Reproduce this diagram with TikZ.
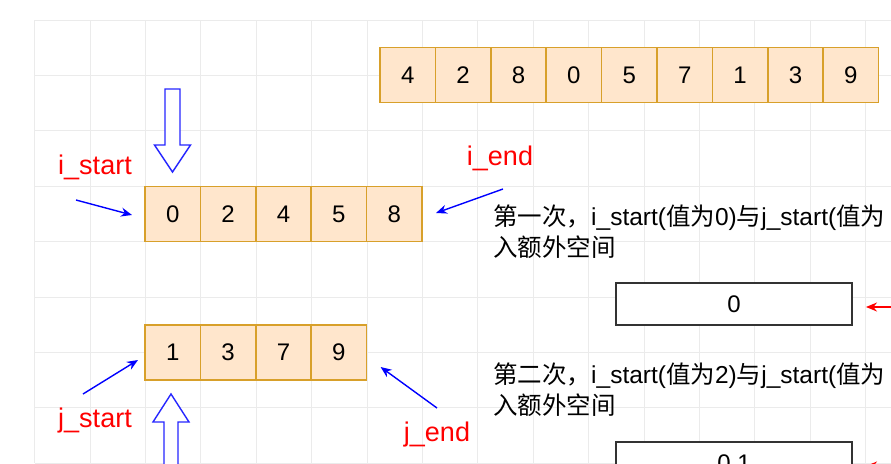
\documentclass[tikz,border=0pt]{standalone}
\usepackage{fontspec}
\setmainfont{Liberation Sans}
\newfontfamily\cjk{Noto Sans CJK SC}
\usetikzlibrary{arrows.meta, positioning}
\definecolor{cellfill}{HTML}{FFE6CC}
\definecolor{cellline}{HTML}{D8A02A}
\definecolor{gridgray}{HTML}{EBEBEB}
\newcommand{\zh}[1]{{\cjk #1}}

\begin{document}
\begin{tikzpicture}[x=1pt, y=-1pt,
    cell/.style={draw=cellline, fill=cellfill, line width=1.5pt, minimum width=55.4pt, minimum height=55.4pt, inner sep=0pt, outer sep=0pt, font=\fontsize{24}{24}\selectfont},
    merged/.style={draw=black!80, fill=white, line width=1.5pt, minimum width=236pt, minimum height=42pt, inner sep=0pt, outer sep=0pt, font=\fontsize{24}{24}\selectfont},
    ptrlabel/.style={text=red, inner sep=0pt, font=\fontsize{27}{27}\selectfont},
    note/.style={anchor=base west, inner sep=0pt, font=\fontsize{24.5}{24.5}\selectfont},
    ptr/.style={draw=blue, line width=1.4pt, -{Stealth[length=11pt, width=9pt]}},
    redptr/.style={draw=red, line width=1.4pt, -{Stealth[length=11pt, width=9pt]}},
    hollow/.style={draw=blue!85, fill=white, line width=1.4pt},
    gridline/.style={draw=gridgray, line width=0.8pt}]
  \clip (0,0) rectangle (891,463);
  \fill[white] (0,0) rectangle (891,463);
  % canvas grid
  \foreach \k in {0,...,15} \draw[gridline] (34.5+55.4*\k,20) -- (34.5+55.4*\k,463);
  \foreach \k in {0,...,8} \draw[gridline] (34.5,20+55.4*\k) -- (891,20+55.4*\k);

  % input array
  \node[cell] (t1) at (407.7,75) {4};
  \node[cell, right=0pt of t1] (t2) {2};
  \node[cell, right=0pt of t2] (t3) {8};
  \node[cell, right=0pt of t3] (t4) {0};
  \node[cell, right=0pt of t4] (t5) {5};
  \node[cell, right=0pt of t5] (t6) {7};
  \node[cell, right=0pt of t6] (t7) {1};
  \node[cell, right=0pt of t7] (t8) {3};
  \node[cell, right=0pt of t8] (t9) {9};

  % left half
  \draw[hollow] (165,89) -- (180,89) -- (180,145) -- (190.5,145) -- (172.5,172) -- (154.5,145) -- (165,145) -- cycle;
  \node[cell] (b1) at (172.7,214) {0};
  \node[cell, right=0pt of b1] (b2) {2};
  \node[cell, right=0pt of b2] (b3) {4};
  \node[cell, right=0pt of b3] (b4) {5};
  \node[cell, right=0pt of b4] (b5) {8};
  \node[ptrlabel] (istart) at (95,167) {i\_start};
  \node[ptrlabel] (iend) at (500,158) {i\_end};
  \coordinate (istartTail) at (76,200);
  \coordinate (iendTail) at (503,189);
  \draw[ptr] (istartTail) -- ([xshift=-13pt, yshift=-1pt]b1.west);
  \draw[ptr] (iendTail) -- ([xshift=14pt, yshift=1pt]b5.east);

  % right half
  \node[cell] (c1) at (172.7,352.5) {1};
  \node[cell, right=0pt of c1] (c2) {3};
  \node[cell, right=0pt of c2] (c3) {7};
  \node[cell, right=0pt of c3] (c4) {9};
  \draw[hollow] (164,475) -- (164,422) -- (153,422) -- (171,394) -- (189,422) -- (178,422) -- (178,475);
  \node[ptrlabel] (jstart) at (95,421) {j\_start};
  \node[ptrlabel] (jend) at (437,435) {j\_end};
  \coordinate (jstartTail) at (83,394);
  \coordinate (jendTail) at (437,408);
  \draw[ptr] (jstartTail) -- ([xshift=-7pt, yshift=-7.5pt]c1.west);
  \draw[ptr] (jendTail) -- ([xshift=14pt, yshift=-14.5pt]c4.east);

  % merge steps
  \node[note] (n1a) at (493,225) {\zh{第一次，}i\_start(\zh{值为}0)\zh{与}j\_start(\zh{值为}};
  \node[note] (n1b) at ([yshift=-31pt]n1a.base west) {\zh{入额外空间}};
  \node[merged] (m1) at (734,304) {0};
  \coordinate (m1Tail) at (900,307);
  \draw[redptr] (m1Tail) -- ([xshift=14pt, yshift=-3pt]m1.east);
  \node[note] (n2a) at (493,383) {\zh{第二次，}i\_start(\zh{值为}2)\zh{与}j\_start(\zh{值为}};
  \node[note] (n2b) at ([yshift=-31pt]n2a.base west) {\zh{入额外空间}};
  \node[merged] (m2) at (734,463) {0 1};
  \coordinate (m2Tail) at (900,466);
  \draw[redptr] (m2Tail) -- ([xshift=14pt, yshift=-3pt]m2.east);
\end{tikzpicture}
\end{document}
